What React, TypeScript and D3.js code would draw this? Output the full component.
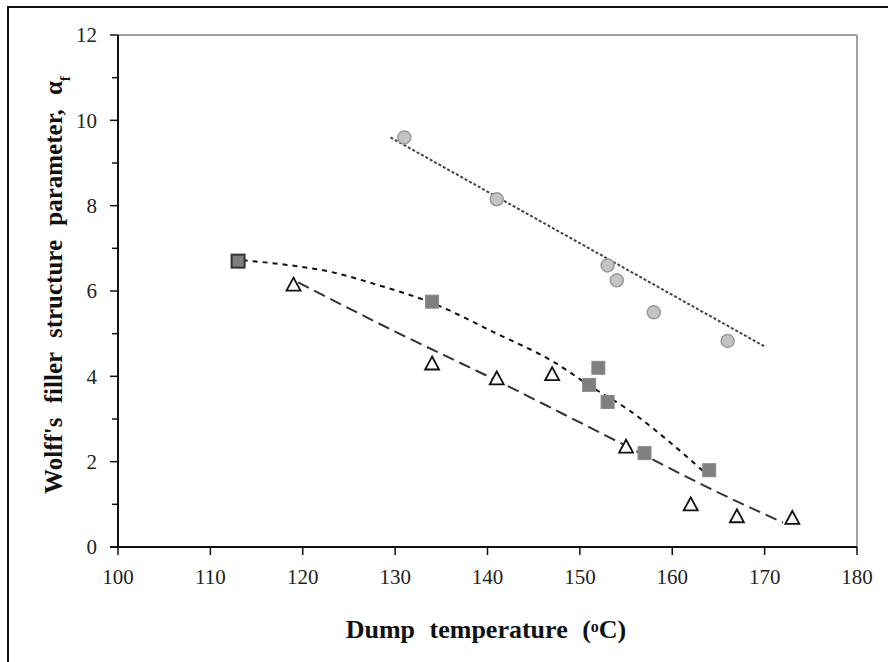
import React from "react";
import * as d3 from "d3";

const xTicks = [100, 110, 120, 130, 140, 150, 160, 170, 180];
const yMajorTicks = [0, 2, 4, 6, 8, 10, 12];
const yMinorTicks = [1, 3, 5, 7, 9, 11];

const circleX = [131, 141, 153, 154, 158, 166];
const circleY = [9.6, 8.15, 6.6, 6.25, 5.5, 4.83];
const circleFitX = [129.5, 170];
const circleFitY = [9.6, 4.7];

const squareX = [113, 134, 152, 151, 153, 157, 164];
const squareY = [6.7, 5.75, 4.2, 3.8, 3.4, 2.2, 1.8];
const squareFitX = [113.5, 118, 123, 128, 134, 141, 147, 151.5, 155.5, 159.5, 164];
const squareFitY = [6.72, 6.62, 6.45, 6.15, 5.72, 5.0, 4.36, 3.72, 3.18, 2.5, 1.65];

const triX = [119, 134, 141, 147, 155, 162, 167, 173];
const triY = [6.15, 4.3, 3.95, 4.05, 2.35, 1.0, 0.72, 0.68];
const triFitX = [119.5, 130, 141, 150, 157, 164, 172];
const triFitY = [6.2, 5.05, 3.9, 2.92, 2.15, 1.38, 0.57];

const W = 888;
const H = 662;
const left = 118;
const right = 857;
const top = 35;
const bottom = 547;

export default function App() {
  const x = d3.scaleLinear().domain([100, 180]).range([left, right]);
  const y = d3.scaleLinear().domain([0, 12]).range([bottom, top]);
  const serif = "Liberation Serif";

  const fitLine = (xs: number[], ys: number[], curve: any) =>
    d3
      .line<number>()
      .x((_, i) => x(xs[i]))
      .y((_, i) => y(ys[i]))
      .curve(curve)(xs) || "";

  const triPath = (cx: number, cy: number) => {
    const s = 7;
    return `M${cx},${cy - s}L${cx + s},${cy + s * 0.85}L${cx - s},${cy + s * 0.85}Z`;
  };

  return (
    <svg width={W} height={H} style={{ position: "absolute", left: 0, top: 0, background: "#fff" }}>
      <rect x={8} y={7} width={W + 20} height={H + 20} fill="none" stroke="#111" strokeWidth={2} />
      {/* plot border */}
      <line x1={left} y1={top} x2={right} y2={top} stroke="#a0a0a0" strokeWidth={2} />
      <line x1={right} y1={top} x2={right} y2={bottom} stroke="#a0a0a0" strokeWidth={2} />
      {/* axes */}
      <line x1={left} y1={top} x2={left} y2={bottom + 1} stroke="#111" strokeWidth={2} />
      <line x1={left - 8} y1={bottom} x2={right} y2={bottom} stroke="#111" strokeWidth={2} />
      {yMajorTicks.map((t) => (
        <g key={"ym" + t}>
          <line x1={left - 8} x2={left} y1={y(t)} y2={y(t)} stroke="#111" strokeWidth={1.5} />
          <text x={97} y={y(t)} dy="0.35em" textAnchor="end" style={{ fontFamily: serif }} fontSize={21} fill="#222">
            {t}
          </text>
        </g>
      ))}
      {yMinorTicks.map((t) => (
        <line key={"yn" + t} x1={left - 6} x2={left} y1={y(t)} y2={y(t)} stroke="#111" strokeWidth={1.5} />
      ))}
      {xTicks.map((t) => (
        <g key={"x" + t}>
          <line x1={x(t)} x2={x(t)} y1={bottom} y2={bottom + 8} stroke="#111" strokeWidth={1.5} />
          <text x={x(t)} y={584} textAnchor="middle" style={{ fontFamily: serif }} fontSize={21} fill="#222">
            {t}
          </text>
        </g>
      ))}

      {/* fit lines */}
      <path d={fitLine(circleFitX, circleFitY, d3.curveLinear)} fill="none" stroke="#444" strokeWidth={2} strokeDasharray="3,2" />
      <path d={fitLine(squareFitX, squareFitY, d3.curveMonotoneX)} fill="none" stroke="#111" strokeWidth={2} strokeDasharray="5,5" />
      <path d={fitLine(triFitX, triFitY, d3.curveMonotoneX)} fill="none" stroke="#333" strokeWidth={2} strokeDasharray="12,6" />

      {/* circles */}
      {circleX.map((v, i) => (
        <circle key={"c" + i} cx={x(v)} cy={y(circleY[i])} r={6.5} fill="#c4c4c4" stroke="#9a9a9a" strokeWidth={1.5} />
      ))}
      {/* squares */}
      {squareX.map((v, i) => (
        <rect
          key={"s" + i}
          x={x(v) - 6.5}
          y={y(squareY[i]) - 6.5}
          width={13}
          height={13}
          fill="#7f7f7f"
          stroke={i === 0 ? "#333" : "#8a8a8a"}
          strokeWidth={i === 0 ? 2 : 1}
        />
      ))}
      {/* triangles */}
      {triX.map((v, i) => (
        <path key={"t" + i} d={triPath(x(v), y(triY[i]))} fill="#fff" stroke="#111" strokeWidth={1.8} />
      ))}

      {/* titles */}
      <text x={486} y={638} textAnchor="middle" style={{ fontFamily: serif }} fontWeight="bold" fontSize={26} fill="#111" wordSpacing={8}>
        Dump temperature (<tspan baselineShift="40%" fontSize={16}>o</tspan>C)
      </text>
      <text
        transform={`translate(62, 285) rotate(-90)`}
        textAnchor="middle"
        style={{ fontFamily: serif }}
        fontWeight="bold"
        fontSize={25}
        fill="#111"
        wordSpacing={8}
      >
        Wolff's filler structure parameter, α<tspan baselineShift="sub" fontSize={15}>f</tspan>
      </text>
    </svg>
  );
}
